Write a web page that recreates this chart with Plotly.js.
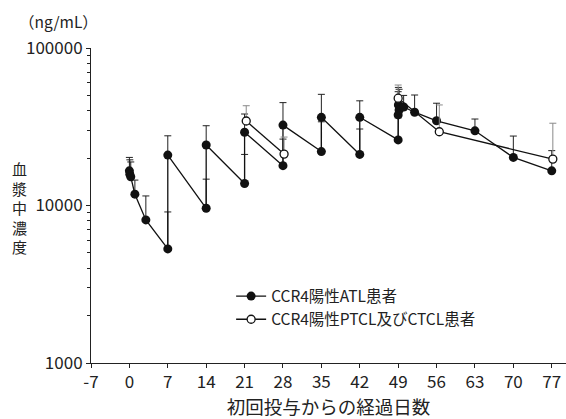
<!DOCTYPE html>
<html><head><meta charset="utf-8">
<script src="https://cdn.plot.ly/plotly-3.0.1.min.js"></script>
<style>html,body{margin:0;padding:0;background:#fff}#chart{width:566px;height:419px}</style>
</head><body><div id="chart"></div>
<script>
// CCR4-positive ATL patients (filled)
const atlDays  = [0, 0.08, 0.25, 1, 3, 7, 7, 14, 14, 21, 21, 28, 28, 35, 35, 42, 42, 49, 49, 49.04, 49.17, 50, 52, 56, 63, 70, 77];
const atlMean  = [16600, 15800, 15200, 11800, 8100, 5300, 20900, 9600, 24200, 13800, 29200, 17900, 32400, 22000, 36300, 21100, 36300, 26100, 37600, 43500, 40400, 42200, 39100, 34500, 29800, 20200, 16600];
const atlUpper = [20200, 19500, 18900, 14500, 11500, 9100, 27700, 14700, 32100, 21100, 38100, 26400, 45000, 34000, 50800, 30600, 46200, 36000, 52800, 56200, 54700, 50000, 50300, 44600, 35400, 27600, 22300];
// CCR4-positive PTCL and CTCL patients (open)
const ptclDays  = [21.3, 28.2, null, 49, 56.5, 77.2];
const ptclMean  = [34400, 21200, null, 48000, 29400, 19700];
const ptclUpper = [43000, 27200, null, 58200, 43500, 33300];

const xTicks = [-7, 0, 7, 14, 21, 28, 35, 42, 49, 56, 63, 70, 77];
const yTicks = [1000, 10000, 100000];
const yTickText = ['1000', '10000', '100000'];
const names = ['CCR4陽性ATL患者', 'CCR4陽性PTCL及びCTCL患者'];
const xTitle = '初回投与からの経過日数';
const yTitle = '血漿中濃度';
const unit = '（ng/mL）';

const FONT = '"Noto Sans CJK JP", "Noto Sans", sans-serif';
const diff = (u, m) => u.map((v, i) => (v == null || m[i] == null) ? null : v - m[i]);

const traces = [
  {
    x: atlDays, y: atlMean, name: names[0], type: 'scatter', mode: 'lines+markers',
    line: {color: '#111', width: 1.3},
    marker: {symbol: 'circle', size: 9, color: '#111'},
    error_y: {type: 'data', symmetric: false, array: diff(atlUpper, atlMean), arrayminus: atlMean.map(() => 0),
              color: '#222', thickness: 1, width: 3.5}
  },
  {
    x: ptclDays, y: ptclMean, name: names[1], type: 'scatter', mode: 'lines+markers',
    connectgaps: false,
    line: {color: '#111', width: 1.3},
    marker: {symbol: 'circle', size: 8, color: '#fff', line: {color: '#111', width: 1.3}},
    error_y: {type: 'data', symmetric: false, array: diff(ptclUpper, ptclMean), arrayminus: ptclMean.map(() => 0),
              color: '#8a8a8a', thickness: 1, width: 3.5}
  }
];

const layout = {
  width: 566, height: 419,
  margin: {l: 91, r: 0, t: 48, b: 56},
  paper_bgcolor: '#fff', plot_bgcolor: '#fff',
  font: {family: FONT, size: 16, color: '#222'},
  showlegend: true,
  legend: {x: 0.295, y: 0.265, xanchor: 'left', yanchor: 'top', bgcolor: 'rgba(0,0,0,0)',
           font: {family: FONT, size: 15.5, color: '#222'}, tracegroupgap: 0, itemwidth: 30},
  xaxis: {
    range: [-7, 79.6], tickvals: xTicks, ticktext: xTicks.map(String),
    showline: true, linecolor: '#222', linewidth: 1, mirror: false,
    ticks: 'outside', ticklen: 4, tickcolor: '#222', showgrid: false, zeroline: false,
    tickfont: {family: FONT, size: 17, color: '#222'},
    title: {text: xTitle, font: {family: FONT, size: 18.5, color: '#222'}, standoff: 12}
  },
  yaxis: {
    type: 'log', range: [3, 5], tickvals: yTicks, ticktext: yTickText,
    showline: true, linecolor: '#222', linewidth: 1,
    ticks: 'outside', ticklen: 4, tickcolor: '#222', showgrid: false, zeroline: false,
    tickfont: {family: FONT, size: 17, color: '#222'},
    minor: {ticks: 'outside', ticklen: 3, tickcolor: '#222', dtick: 'D1', showgrid: false}
  },
  annotations: [
    {text: unit, xref: 'paper', yref: 'paper', x: -0.155, y: 1.087, xanchor: 'left', yanchor: 'middle',
     showarrow: false, font: {family: FONT, size: 15.5, color: '#222'}},
    {text: yTitle.split('').join('<br>'), xref: 'paper', yref: 'paper', x: -0.15, y: 0.495,
     xanchor: 'center', yanchor: 'middle', showarrow: false,
     font: {family: FONT, size: 15, color: '#222'}}
  ]
};

Plotly.newPlot('chart', traces, layout, {staticPlot: true, displayModeBar: false});
</script></body></html>
